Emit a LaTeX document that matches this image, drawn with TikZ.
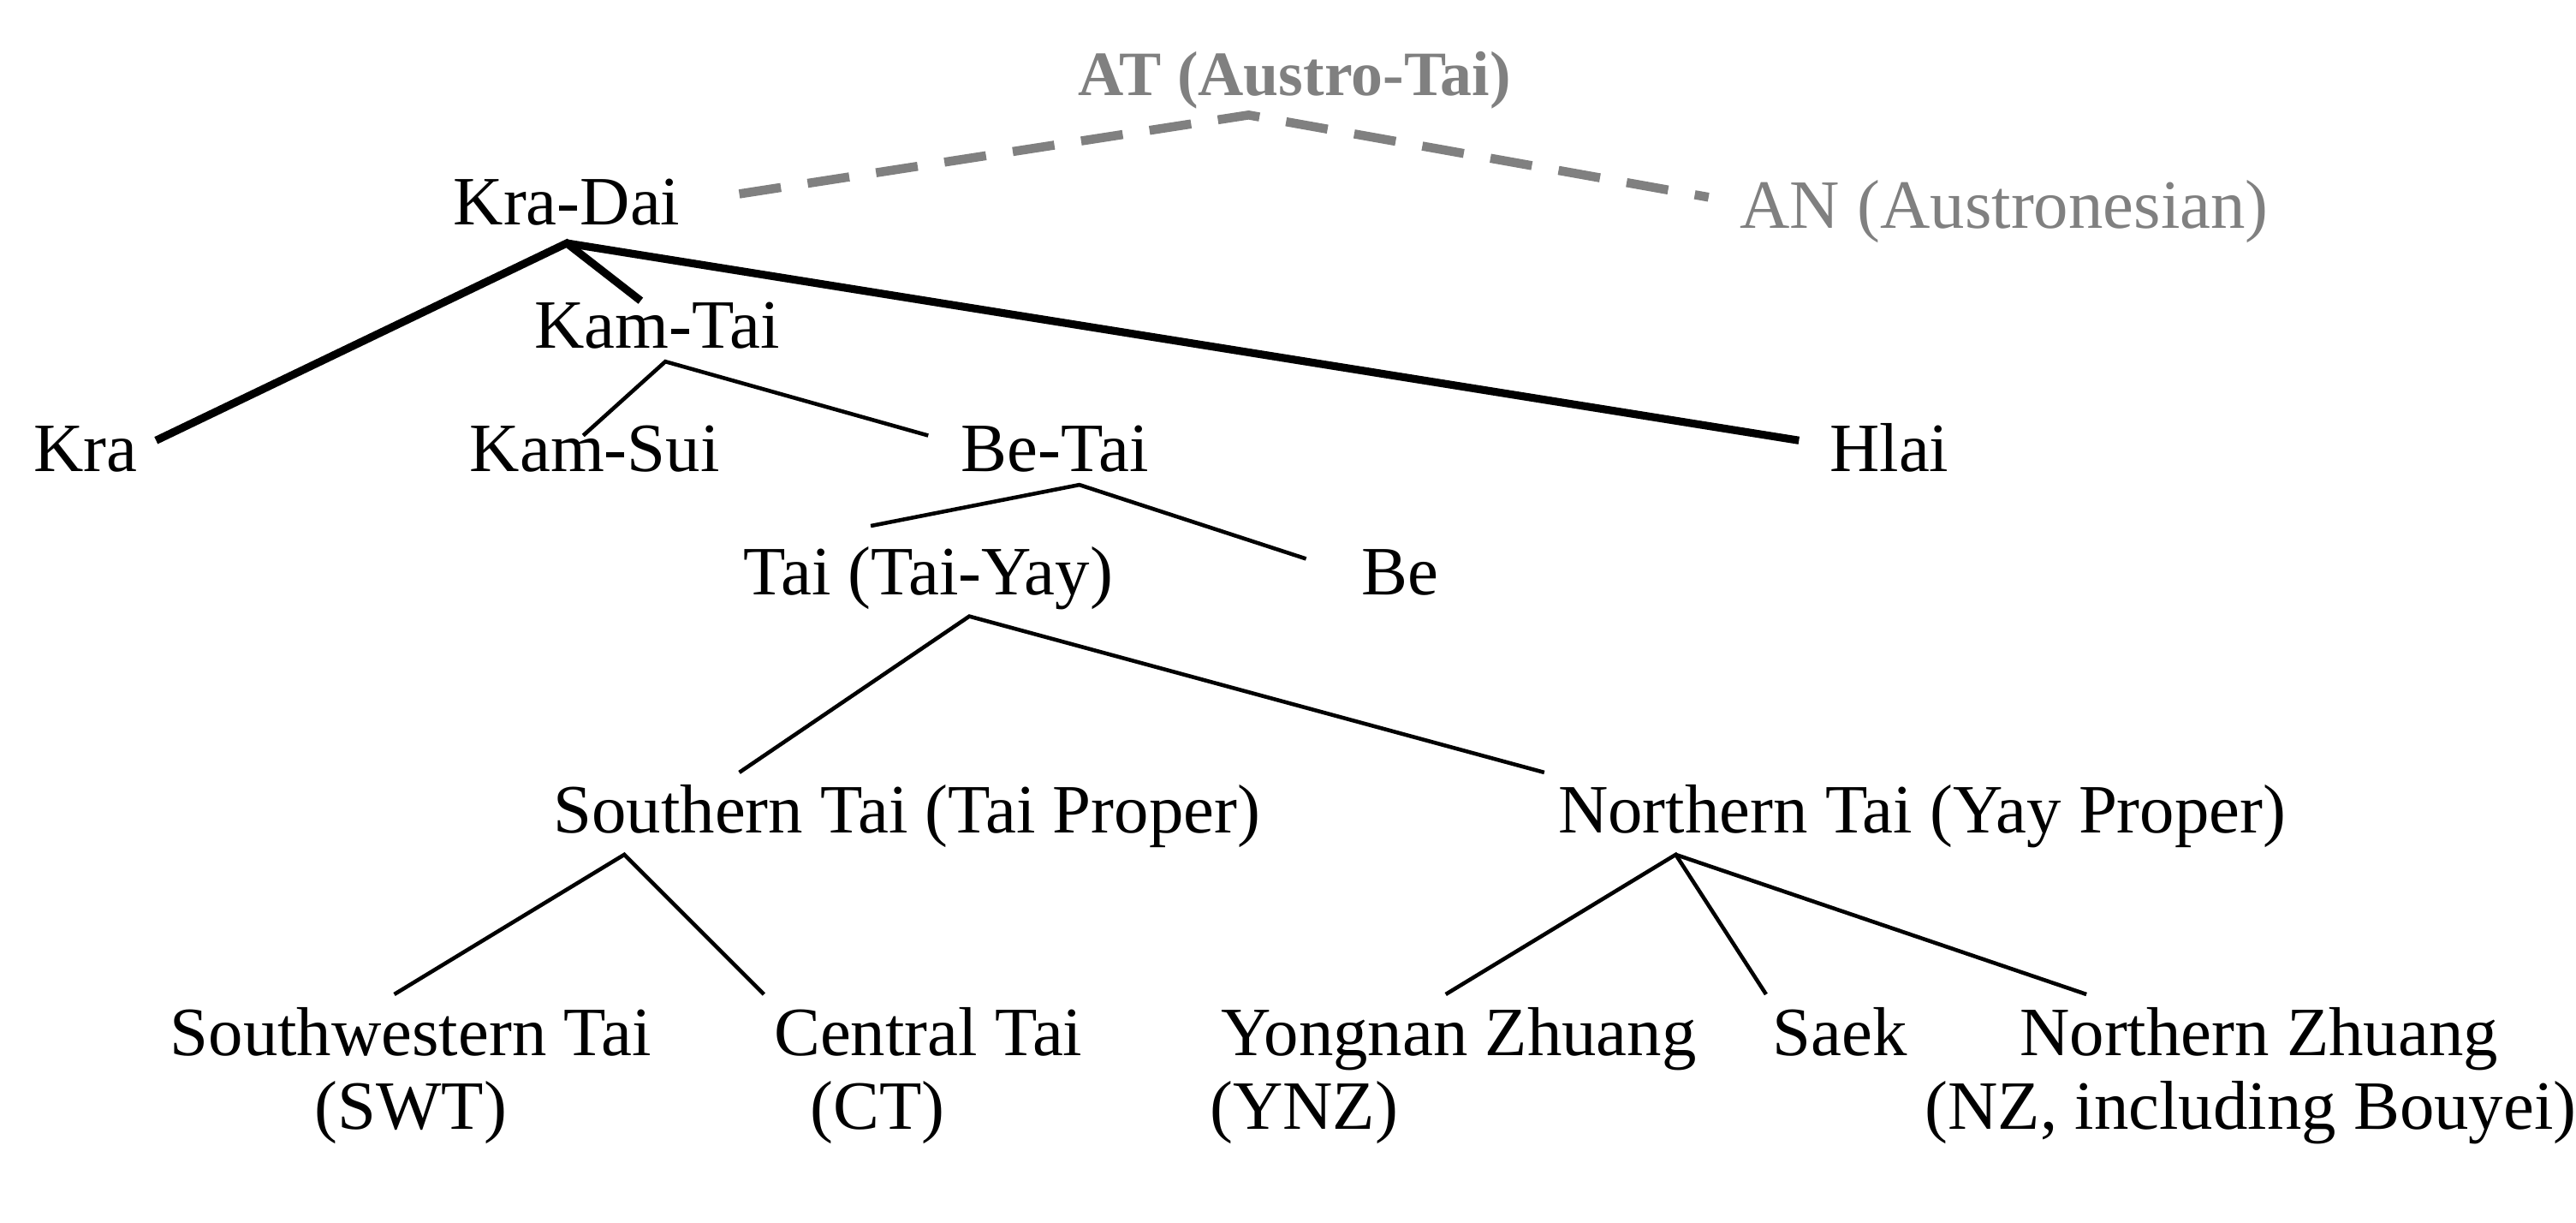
\documentclass[tikz,border=0pt]{standalone}
\usepackage{fontspec}
\setmainfont{Liberation Serif}
\begin{document}
\begin{tikzpicture}[x=0.01919cm,y=-0.01919cm,
  lbl/.style={font=\fontsize{23}{26}\selectfont, inner sep=0pt, anchor=base},
  gl/.style={lbl, text=gray},
  thk/.style={line width=2.6pt},
  thn/.style={line width=1.3pt},
  dsh/.style={line width=3pt, gray, dash pattern=on 14pt off 9pt}]
\useasboundingbox (0,0) rectangle (1568,744);
\node[gl,font=\fontsize{21}{24}\selectfont\bfseries] (at) at (788,58) {AT (Austro-Tai)};
\node[lbl] (kd) at (345,137) {Kra-Dai};
\node[gl] (an) at (1220,139) {AN (Austronesian)};
\node[lbl] (kt) at (400,212) {Kam-Tai};
\node[lbl] (kra) at (52,287) {Kra};
\node[lbl] (ks) at (362,287) {Kam-Sui};
\node[lbl] (bt) at (642,287) {Be-Tai};
\node[lbl] (hl) at (1150,287) {Hlai};
\node[lbl] (ty) at (565,362) {Tai (Tai-Yay)};
\node[lbl] (be) at (852,362) {Be};
\node[lbl] (st) at (552,507) {Southern Tai (Tai Proper)};
\node[lbl] (nt) at (1170,507) {Northern Tai (Yay Proper)};
\node[lbl] (swt) at (250,642) {Southwestern Tai};
\node[lbl] (swt2) at (250,687) {(SWT)};
\node[lbl] (ct) at (565,642) {Central Tai};
\node[lbl,anchor=base west] (ct2) at (493,687) {(CT)};
\node[lbl] (ynz) at (888,642) {Yongnan Zhuang};
\node[lbl,anchor=base west] (ynz2) at (736,687) {(YNZ)};
\node[lbl] (sk) at (1120,642) {Saek};
\node[lbl] (nz) at (1375,642) {Northern Zhuang};
\node[lbl] (nz2) at (1370,687) {(NZ, including Bouyei)};
% connector points
\coordinate (atp) at (760,70);
\coordinate (kdr) at (450,118); \coordinate (anl) at (1040,120);
\coordinate (kdp) at (345,148);
\coordinate (krap) at (95,268); \coordinate (ktt) at (390,183); \coordinate (hlp) at (1095,268);
\coordinate (ktp) at (405,220); \coordinate (ksp) at (355,265); \coordinate (btl) at (565,265);
\coordinate (btp) at (657,295); \coordinate (tyt) at (530,320); \coordinate (bep) at (795,340);
\coordinate (typ) at (590,375); \coordinate (stt) at (450,470); \coordinate (ntt) at (940,470);
\coordinate (stp) at (380,520); \coordinate (swtt) at (240,605); \coordinate (ctt) at (465,605);
\coordinate (ntp) at (1020,520); \coordinate (ynzt) at (880,605); \coordinate (skt) at (1075,605); \coordinate (nzt) at (1270,605);
\draw[dsh] (kdr) -- (atp) -- (anl);
\draw[thk] (krap) -- (kdp) -- (ktt); \draw[thk] (kdp) -- (hlp);
\draw[thn] (ksp) -- (ktp) -- (btl);
\draw[thn] (tyt) -- (btp) -- (bep);
\draw[thn] (stt) -- (typ) -- (ntt);
\draw[thn] (swtt) -- (stp) -- (ctt);
\draw[thn] (ynzt) -- (ntp) -- (skt); \draw[thn] (ntp) -- (nzt);
\end{tikzpicture}
\end{document}
